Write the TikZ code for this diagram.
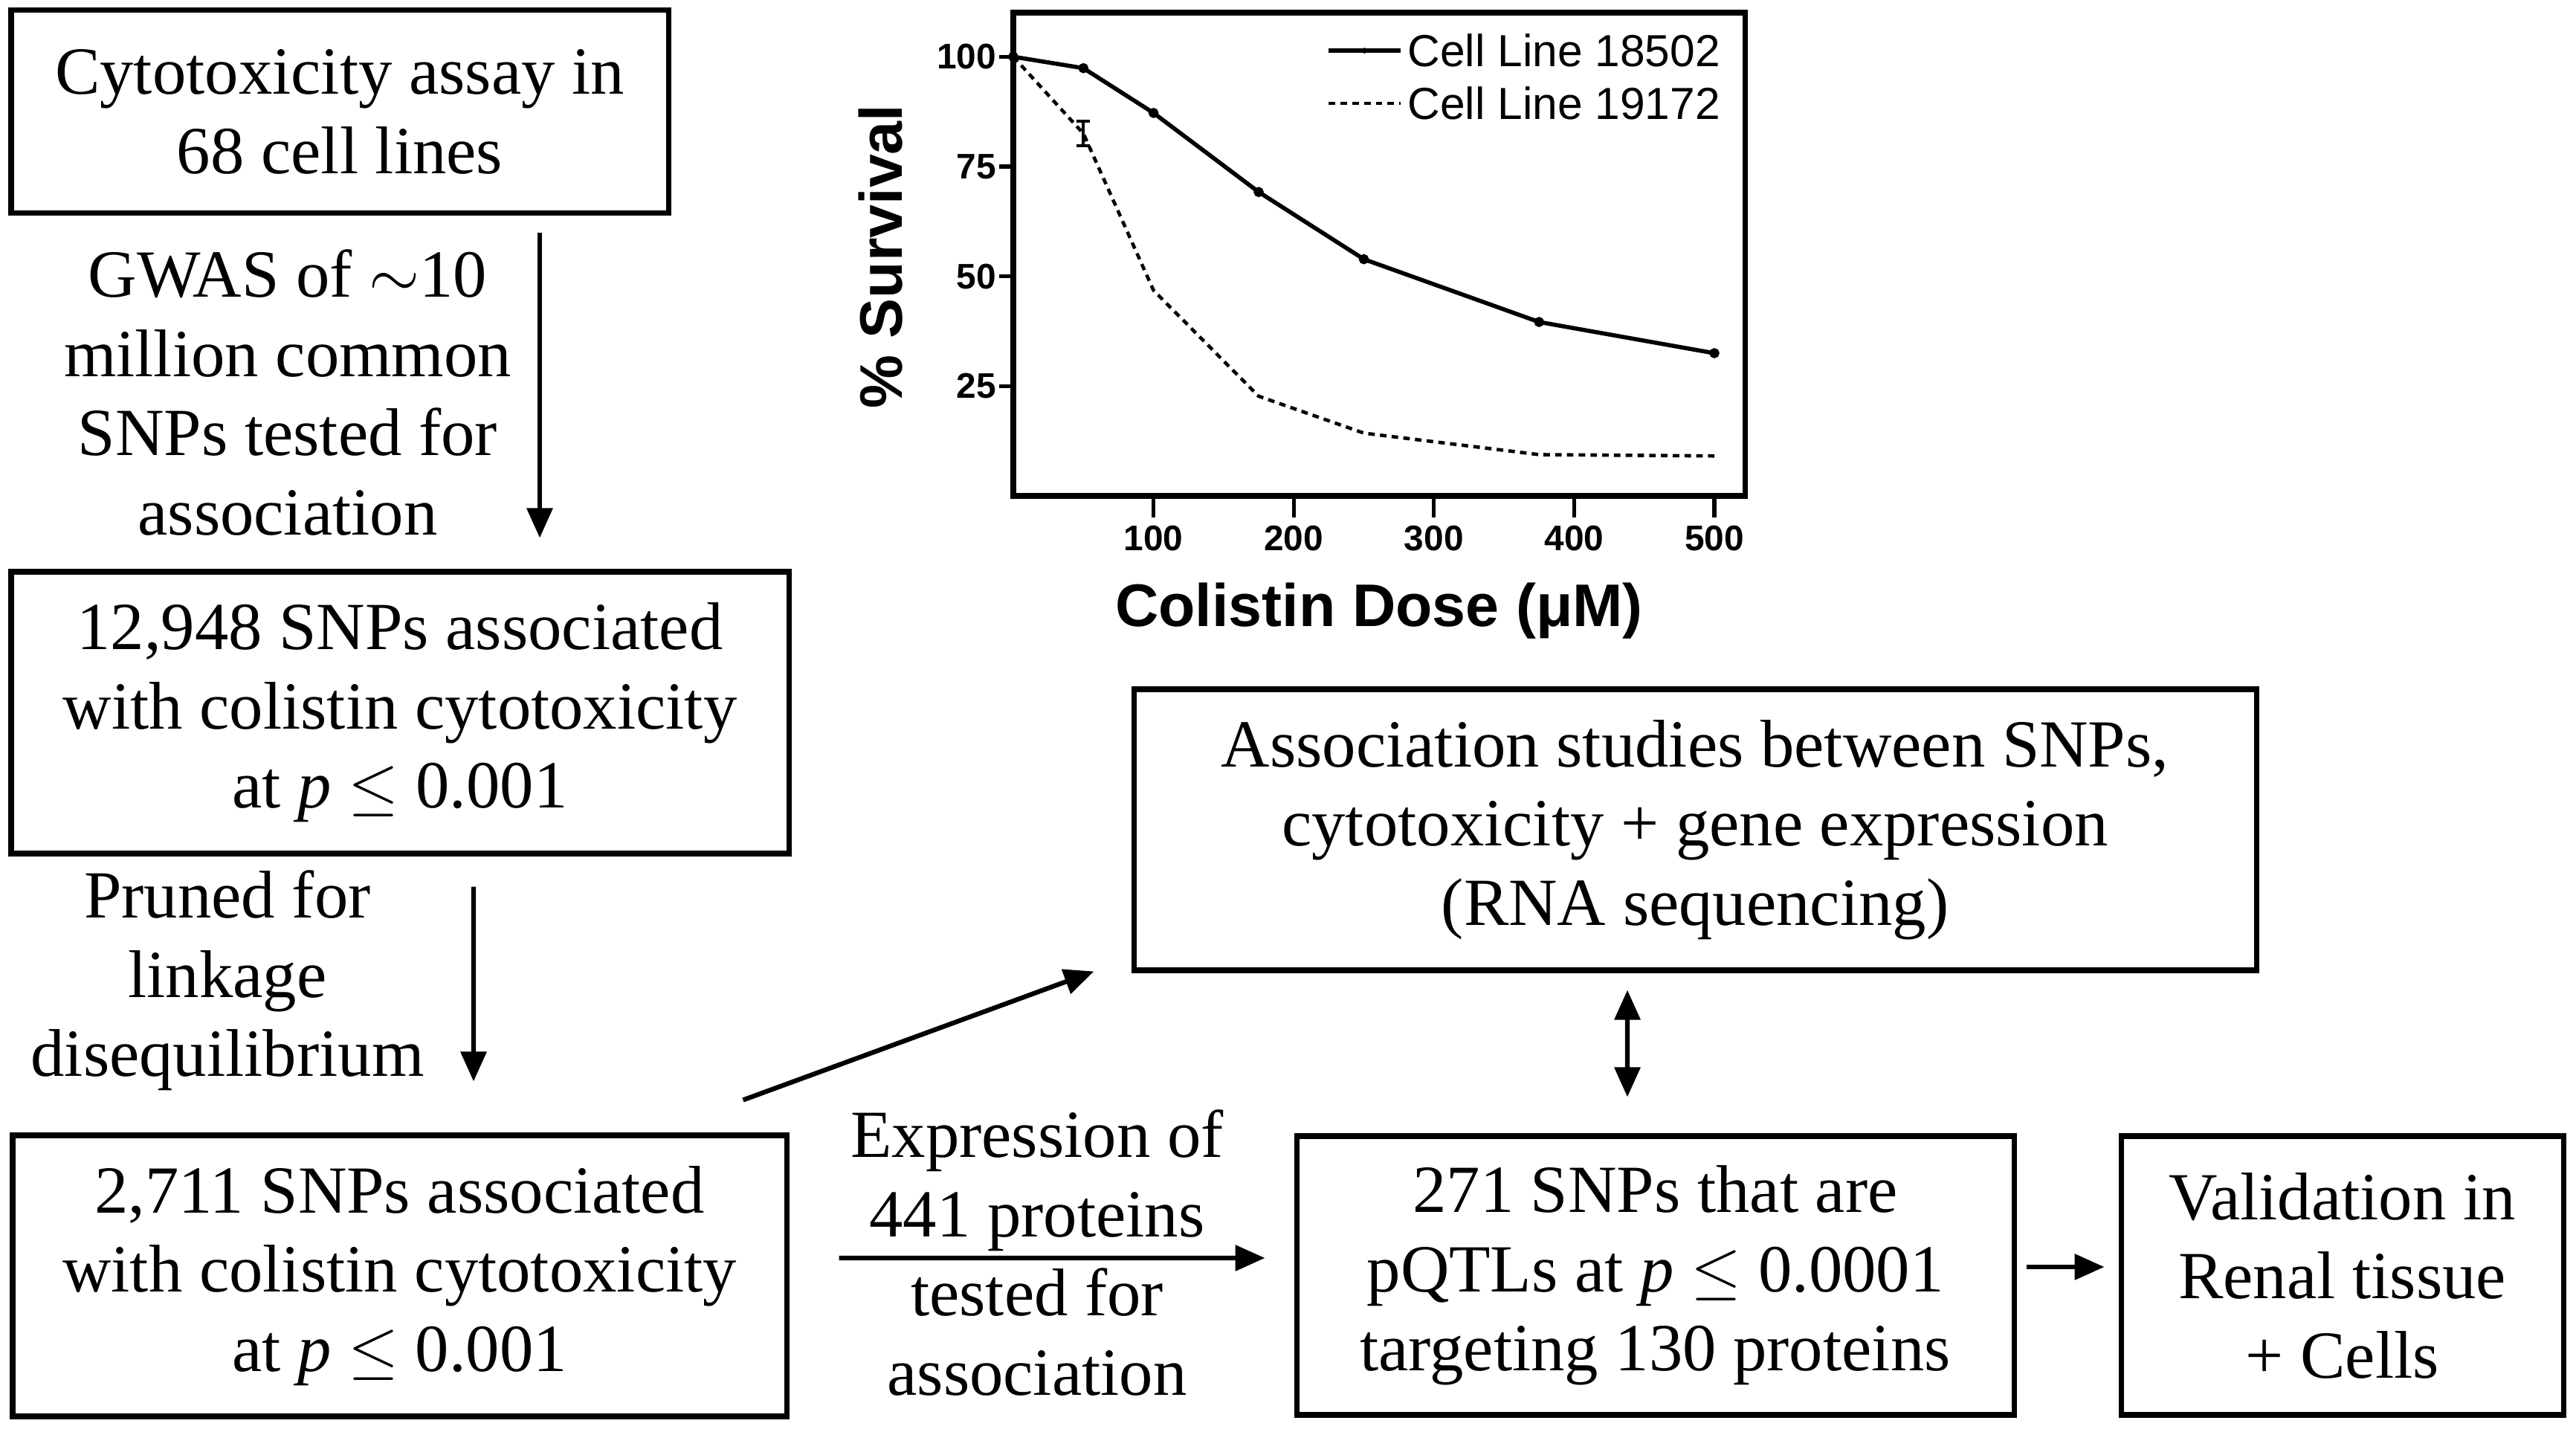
\documentclass[tikz,border=0pt]{standalone}
\usepackage{fontspec}
\setmainfont{Liberation Serif}
\newfontfamily\plotfont{Liberation Sans}
\usetikzlibrary{arrows.meta}

\tikzset{
	flowbox/.style={draw, line width=2pt, align=center, inner sep=0pt, font=\fontsize{25.8}{30.3}\selectfont},
	flowtext/.style={align=center, inner sep=0pt, font=\fontsize{25.8}{30.3}\selectfont},
	flowarrow/.style={line width=1.8pt, -{Triangle[length=0.4cm,width=0.34cm]}},
	ticklabel/.style={inner sep=1pt, font=\plotfont\bfseries\fontsize{13.6}{15}\selectfont},
	axislabel/.style={inner sep=0pt, font=\plotfont\bfseries\fontsize{23}{27}\selectfont},
}

\begin{document}
\begin{tikzpicture}
			%%%%% START %%%%%
			\useasboundingbox (0, 0) rectangle (34.65, 19.25);
			
			\node[flowbox, minimum width=8.84cm, minimum height=2.73cm] (assay) at (4.57, 17.745) {Cytotoxicity assay in\\68 cell lines};
			\node[flowtext] (gwas) at (3.87, 13.97) {GWAS of $\sim$10\\million common\\SNPs tested for\\association};
			\node[flowbox, minimum width=10.46cm, minimum height=3.79cm] (snpsall) at (5.38, 9.665) {12,948 SNPs associated\\with colistin cytotoxicity\\at \textit{p} $\leq$ 0.001};
			\node[flowtext] (pruned) at (3.06, 6.06) {Pruned for\\linkage\\disequilibrium};
			\node[flowbox, minimum width=10.41cm, minimum height=3.78cm] (snpspruned) at (5.375, 2.09) {2,711 SNPs associated\\with colistin cytotoxicity\\at \textit{p} $\leq$ 0.001};
			\node[flowtext] (expr) at (13.95, 2.40) {Expression of\\441 proteins\\tested for\\association};
			\node[flowbox, minimum width=15.1cm, minimum height=3.78cm] (rnaseq) at (22.8, 8.09) {Association studies between SNPs,\\cytotoxicity + gene expression\\(RNA sequencing)};
			\node[flowbox, minimum width=9.65cm, minimum height=3.75cm] (pqtl) at (22.265, 2.095) {271 SNPs that are\\pQTLs at \textit{p} $\leq$ 0.0001\\targeting 130 proteins};
			\node[flowbox, minimum width=5.95cm, minimum height=3.75cm] (valid) at (31.505, 2.095) {Validation in\\Renal tissue\\+ Cells};
			
			\draw[flowarrow] ([xshift=2.69cm, yshift=-0.23cm]assay.south) -- ([xshift=1.88cm, yshift=0.42cm]snpsall.north);
			\draw[flowarrow] ([xshift=0.99cm, yshift=-0.41cm]snpsall.south) -- ([xshift=0.995cm, yshift=0.69cm]snpspruned.north);
			\draw[flowarrow] ([xshift=-0.62cm, yshift=0.44cm]snpspruned.north east) -- ([xshift=-0.5cm, yshift=0.02cm]rnaseq.south west);
			\draw[flowarrow] ([xshift=0.67cm, yshift=0.24cm]snpspruned.east) -- ([xshift=-0.39cm, yshift=0.235cm]pqtl.west);
			\draw[flowarrow, {Triangle[length=0.4cm,width=0.34cm]}-{Triangle[length=0.4cm,width=0.34cm]}] ([xshift=-0.91cm, yshift=-0.23cm]rnaseq.south) -- ([xshift=-0.375cm, yshift=0.49cm]pqtl.north);
			\draw[flowarrow] ([xshift=0.13cm, yshift=0.115cm]pqtl.east) -- ([xshift=-0.19cm, yshift=0.115cm]valid.west);
			
			% survival plot
			\begin{scope}[shift={(13.63, 12.58)}, x=0.01886cm, y=0.05907cm]
				\draw[line width=2.2pt] (0, 0) rectangle (522, 110);
				\foreach \v in {25, 50, 75, 100} {
					\draw[line width=1.5pt] (0, \v) -- (-10, \v);
					\node[ticklabel, anchor=east] (ytick\v) at (-10, \v) {\v};
				}
				\foreach \v in {100, 200, 300, 400, 500} {
					\draw[line width=1.5pt] (\v, 0) -- (\v, -4.9);
					\node[ticklabel, anchor=north] (xtick\v) at (\v, -6) {\v};
				}
				
				\draw[line width=1.6pt] plot[mark=*, mark size=1.1pt] coordinates {(0, 100) (50, 97.4) (100, 87.2) (175, 69.2) (250, 53.9) (375, 39.6) (500, 32.5)};
				\draw[line width=1.3pt, dash pattern=on 2.5pt off 2pt] plot[mark=triangle*, mark size=1.3pt, mark options={solid}] coordinates {(0, 100) (50, 82.5) (100, 46.8) (175, 22.7) (250, 14.3) (375, 9.4) (500, 9.1)};
				\draw[line width=1.2pt] (50, 79.8) -- (50, 85.3);
				\draw[line width=1.2pt] (45.2, 79.8) -- (54.8, 79.8);
				\draw[line width=1.2pt] (45.2, 85.3) -- (54.8, 85.3);
				
				% legend
				\draw[line width=1.6pt] (225, 101.4) -- (276, 101.4);
				\fill (250.5, 101.4) circle (1.1pt);
				\node[anchor=west, inner sep=0pt, font=\plotfont\fontsize{17.2}{19}\selectfont] (leg18502) at (281, 101.4) {Cell Line 18502};
				\draw[line width=1.3pt, dash pattern=on 2.5pt off 2pt] (225, 89.4) -- (276, 89.4);
				\node[anchor=west, inner sep=0pt, font=\plotfont\fontsize{17.2}{19}\selectfont] (leg19172) at (281, 89.4) {Cell Line 19172};
			\end{scope}
			
			\node[axislabel, rotate=90] (ylabel) at (11.85, 15.80) {\% Survival};
			\node[axislabel] (xlabel) at (18.55, 11.03) {Colistin Dose (μM)};
			
			%%%%% END %%%%%
\end{tikzpicture}
\end{document}
